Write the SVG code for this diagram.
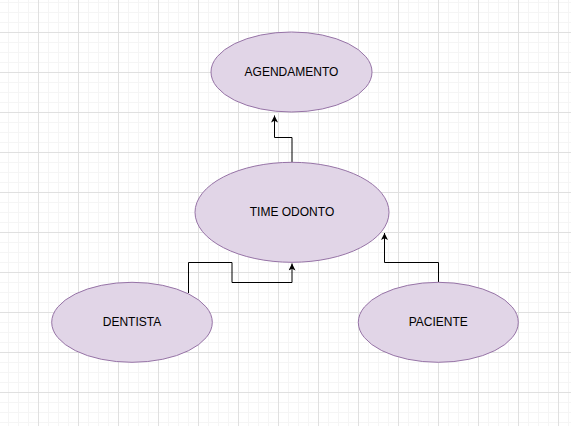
<svg xmlns="http://www.w3.org/2000/svg" width="571" height="426" viewBox="0 0 571 426">
  <defs>
    <pattern id="minor" patternUnits="userSpaceOnUse" x="8" y="2" width="10" height="10">
      <path d="M0.5 0 V10 M0 0.5 H10" fill="none" stroke="#f5f5f5" stroke-width="1"/>
    </pattern>
    <pattern id="major" patternUnits="userSpaceOnUse" x="38" y="32" width="40" height="40">
      <path d="M0.5 0 V40 M0 0.5 H40" fill="none" stroke="#e0e0e0" stroke-width="1"/>
    </pattern>
    <marker id="arrow" viewBox="0 0 10 10" refX="10" refY="5" markerWidth="8" markerHeight="7" markerUnits="userSpaceOnUse" orient="auto">
      <path d="M0 0 L10 5 L0 10 L2.5 5 Z" fill="#000"/>
    </marker>
    <style>
      .node ellipse { fill: #e1d5e7; stroke: #9673a6; stroke-width: 1; }
      .node text { font-family: "Liberation Sans", Arial, sans-serif; font-size: 12px; fill: #000; text-anchor: middle; dominant-baseline: central; }
      .edge { fill: none; stroke: #000; stroke-width: 1; marker-end: url(#arrow); }
    </style>
  </defs>
  <rect width="571" height="426" fill="#ffffff"/>
  <rect width="571" height="426" fill="url(#minor)"/>
  <rect width="571" height="426" fill="url(#major)"/>

  <g id="connectors">
    <path class="edge" d="M292 162 V137.5 H274.5 V115.5"/>
    <path class="edge" d="M188.5 293 V262.5 H232 V282.5 H292 V263.5"/>
    <path class="edge" d="M438.5 282 V262.5 H384.5 V233"/>
  </g>

  <g id="agendamento" class="node">
    <ellipse cx="291.5" cy="72" rx="80.5" ry="40"/>
    <text x="291.5" y="72">AGENDAMENTO</text>
  </g>
  <g id="time-odonto" class="node">
    <ellipse cx="292" cy="212.3" rx="97" ry="50"/>
    <text x="292" y="212.3">TIME ODONTO</text>
  </g>
  <g id="dentista" class="node">
    <ellipse cx="132" cy="322.3" rx="80.3" ry="40"/>
    <text x="132" y="322.3">DENTISTA</text>
  </g>
  <g id="paciente" class="node">
    <ellipse cx="438.3" cy="322.3" rx="80" ry="40"/>
    <text x="438.3" y="322.3">PACIENTE</text>
  </g>
</svg>
